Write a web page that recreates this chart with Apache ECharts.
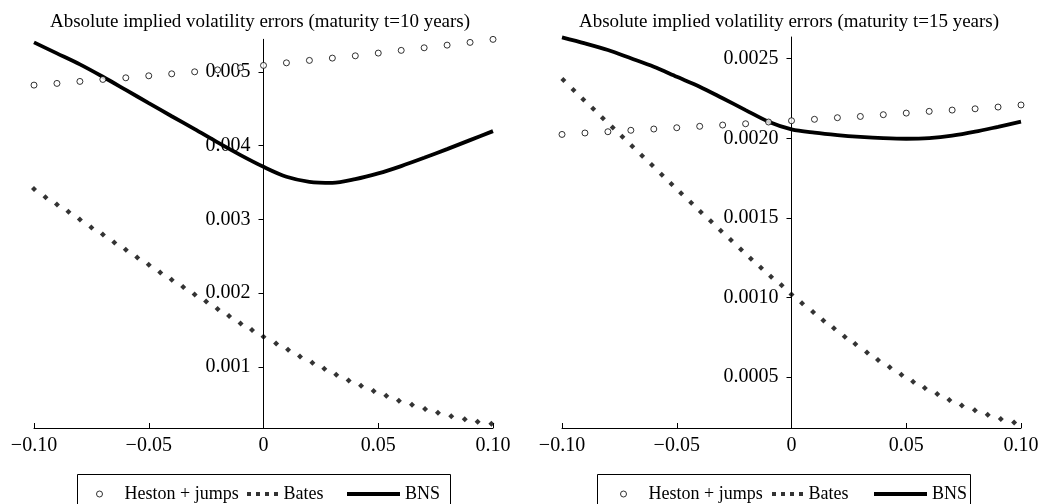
<!DOCTYPE html>
<html><head><meta charset="utf-8">
<script src="https://cdn.jsdelivr.net/npm/echarts@6/dist/echarts.min.js"></script>
<style>html,body{margin:0;padding:0;background:#fff}#c{width:1039px;height:504px}</style>
</head><body><div id="c"></div>
<script>
// ---- data ----
const titles = ['Absolute implied volatility errors (maturity t=10 years)',
                'Absolute implied volatility errors (maturity t=15 years)'];
const seriesNames = ['Heston + jumps', 'Bates', 'BNS'];
const xTicks = [-0.10, -0.05, 0, 0.05, 0.10];
const yTicks10 = [0.001, 0.002, 0.003, 0.004, 0.005];
const yTicks15 = [0.0005, 0.0010, 0.0015, 0.0020, 0.0025];

const gridX = [-0.10,-0.09,-0.08,-0.07,-0.06,-0.05,-0.04,-0.03,-0.02,-0.01,0.00,
               0.01,0.02,0.03,0.04,0.05,0.06,0.07,0.08,0.09,0.10];

const heston10 = [0.004819,0.004842,0.004869,0.004896,0.004918,0.004945,0.004972,0.004999,0.005026,0.005054,0.005086,
                  0.005121,0.005154,0.005185,0.005216,0.005253,0.005290,0.005325,0.005361,0.005398,0.005439];
const bns10 = [0.005398,0.005249,0.005100,0.004932,0.004754,0.004575,0.004397,0.004222,0.004042,0.003870,0.003711,
               0.003576,0.003508,0.003494,0.003544,0.003622,0.003721,0.003833,0.003951,0.004073,0.004195];
const batesX10 = [-0.100,-0.095,-0.090,-0.085,-0.080,-0.075,-0.070,-0.065,-0.060,-0.055,-0.050,-0.045,-0.040,-0.035,
                  -0.030,-0.025,-0.020,-0.015,-0.010,-0.005,0.000,
                  0.0055,0.0107,0.0159,0.0213,0.0265,0.0317,0.0371,0.0425,0.0480,0.0535,0.0590,0.0647,0.0704,
                  0.0760,0.0818,0.0877,0.0933,0.0993];
const bates10 = [0.003409,0.003300,0.003201,0.003101,0.002998,0.002889,0.002792,0.002686,0.002586,0.002483,0.002382,
                 0.002279,0.002179,0.002080,0.001981,0.001886,0.001782,0.001687,0.001588,0.001497,0.001406,
                 0.001317,0.001230,0.001140,0.001054,0.000972,0.000891,0.000815,0.000742,0.000670,0.000606,
                 0.000538,0.000484,0.000426,0.000376,0.000331,0.000290,0.000254,0.000226];

const heston15 = [0.002024,0.002033,0.002041,0.002050,0.002058,0.002066,0.002075,0.002083,0.002091,0.002102,0.002110,
                  0.002119,0.002129,0.002137,0.002148,0.002158,0.002169,0.002177,0.002185,0.002196,0.002209];
const bns15 = [0.002634,0.002596,0.002554,0.002502,0.002449,0.002386,0.002324,0.002251,0.002177,0.002104,0.002056,
               0.002035,0.002020,0.002009,0.002001,0.001997,0.002001,0.002016,0.002041,0.002072,0.002104];
const batesX15 = [-0.0994,-0.0950,-0.0907,-0.0864,-0.0822,-0.0779,-0.0737,-0.0694,-0.0651,-0.0608,-0.0565,-0.0523,
                  -0.0481,-0.0437,-0.0395,-0.0351,-0.0308,-0.0264,-0.0220,-0.0177,-0.0133,-0.0089,-0.0043,0.0000,
                  0.0046,0.0094,0.0139,0.0185,0.0232,0.0278,0.0329,0.0377,0.0428,0.0479,0.0530,0.0581,0.0635,
                  0.0688,0.0742,0.0799,0.0855,0.0912,0.0970];
const bates15 = [0.002366,0.002303,0.002244,0.002185,0.002125,0.002068,0.002009,0.001949,0.001890,0.001832,0.001771,
                 0.001712,0.001654,0.001595,0.001536,0.001478,0.001419,0.001361,0.001302,0.001243,0.001187,0.001130,
                 0.001076,0.001019,0.000963,0.000908,0.000856,0.000806,0.000753,0.000707,0.000655,0.000607,0.000561,
                 0.000514,0.000470,0.000431,0.000393,0.000356,0.000322,0.000291,0.000263,0.000236,0.000215];

// ---- chart ----
const FONT = "'Liberation Serif','Times New Roman',serif";
const pairs = (xs, ys) => xs.map((x, i) => [x, ys[i]]);
const xFmt = v => Math.abs(v) < 1e-9 ? '0' : (v < 0 ? '\u2212' : '') + Math.abs(v).toFixed(2);

const panels = [
  {grid:{left:34, top:39.3, width:459, bottom:76, outerBoundsMode:'none'}, yMin:0.00017, yMax:0.00544,
   yTicks:yTicks10, dec:3, heston:heston10, bns:bns10, batesX:batesX10, bates:bates10, titleX:260,
   leg:[96, 247, 347], box:77.5},
  {grid:{left:562, top:37, width:459, bottom:76, outerBoundsMode:'none'}, yMin:0.00018, yMax:0.002636,
   yTicks:yTicks15, dec:4, heston:heston15, bns:bns15, batesX:batesX15, bates:bates15, titleX:789,
   leg:[620, 772, 874], box:597.5}
];

const option = {
  backgroundColor:'#fff',
  animation:false,
  title: panels.map((p, i) => ({text:titles[i], left:p.titleX, top:13, textAlign:'center', padding:0,
    textStyle:{fontFamily:FONT, fontSize:19, fontWeight:'normal', color:'#000'}})),
  grid: panels.map(p => p.grid),
  xAxis: panels.map((p, i) => ({gridIndex:i, type:'value', min:-0.1, max:0.1, interval:0.05,
    axisLine:{onZero:false, lineStyle:{color:'#000', width:1}},
    axisTick:{show:true, inside:true, length:5, lineStyle:{color:'#000'}},
    axisLabel:{color:'#000', fontFamily:FONT, fontSize:20, margin:8, formatter:xFmt},
    splitLine:{show:false}})),
  yAxis: panels.map((p, i) => ({gridIndex:i, type:'value', min:p.yMin, max:p.yMax,
    position:'left', offset:-229.5,
    axisLine:{show:true, onZero:false, lineStyle:{color:'#000', width:1}},
    axisTick:{show:true, inside:false, length:5, customValues:p.yTicks, lineStyle:{color:'#000'}},
    axisLabel:{color:'#000', fontFamily:FONT, fontSize:20, margin:13, customValues:p.yTicks,
      formatter: v => v.toFixed(p.dec)},
    splitLine:{show:false}})),
  legend: [],
  graphic: panels.map(p => ({type:'rect', silent:true,
    shape:{x:p.box, y:474.5, width:373, height:45},
    style:{fill:'none', stroke:'#000', lineWidth:1}})),
  series: []
};

panels.forEach((p, i) => {
  option.series.push({name:seriesNames[2], type:'line', xAxisIndex:i, yAxisIndex:i,
    data:pairs(gridX, p.bns), showSymbol:false, smooth:0.3, color:'#000',
    lineStyle:{color:'#000', width:3.8}, clip:false, z:3});
  option.series.push({name:seriesNames[1], type:'scatter', xAxisIndex:i, yAxisIndex:i,
    data:pairs(p.batesX, p.bates), symbol:'diamond', symbolSize:6, itemStyle:{color:'#000'}, clip:false, z:4});
  option.series.push({name:seriesNames[0], type:'scatter', xAxisIndex:i, yAxisIndex:i,
    data:pairs(gridX, p.heston), symbol:'circle', symbolSize:6,
    itemStyle:{color:'#fff', borderColor:'#000', borderWidth:1}, clip:false, z:5});
  const ts = {fontFamily:FONT, fontSize:18, color:'#000'};
  option.legend.push({data:[{name:seriesNames[0], icon:'circle'}], left:p.leg[0], top:485,
    itemWidth:40, itemHeight:6, padding:0, selectedMode:false, textStyle:ts,
    itemStyle:{color:'#fff', borderColor:'#000', borderWidth:1}});
  option.legend.push({data:[{name:seriesNames[1],
    icon:'path://M0,0h4v4h-4zM9,0h4v4h-4zM18,0h4v4h-4zM27,0h4v4h-4z'}], left:p.leg[1], top:485,
    itemWidth:32, itemHeight:4, padding:0, selectedMode:false, textStyle:ts, itemStyle:{color:'#000'}});
  option.legend.push({data:[{name:seriesNames[2], icon:'rect'}], left:p.leg[2], top:485,
    itemWidth:53, itemHeight:4, padding:0, selectedMode:false, textStyle:ts, itemStyle:{color:'#000'}});
});

const chart = echarts.init(document.getElementById('c'));
chart.setOption(option);
</script>
</body></html>
